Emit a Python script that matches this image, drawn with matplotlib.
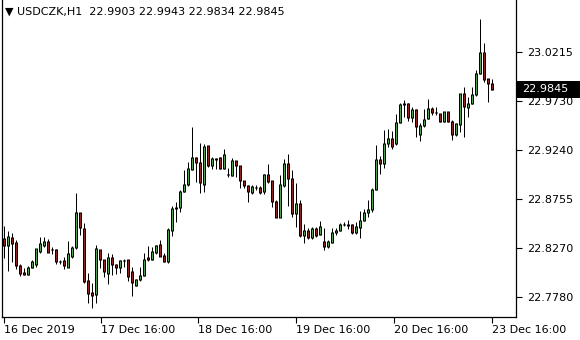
import matplotlib

matplotlib.use("Agg")

import numpy as np  # noqa: E402
from matplotlib import pyplot as plt  # noqa: E402
from matplotlib import transforms  # noqa: E402
from matplotlib.patches import Rectangle  # noqa: E402

# USDCZK H1 bars
opens = [
    22.8366, 22.8287, 22.8376, 22.8317, 22.8088, 22.8028, 22.8008, 22.8078, 22.8098, 22.8237,
    22.8287, 22.8327, 22.8247, 22.8247, 22.8128, 22.8138, 22.8078, 22.8187, 22.8267, 22.8615,
    22.8456, 22.7939, 22.7829, 22.7809, 22.8247, 22.8148, 22.8018, 22.8177, 22.8098, 22.8078,
    22.8138, 22.8148, 22.8038, 22.7899, 22.7949, 22.7998, 22.8177, 22.8157, 22.8227, 22.8297,
    22.8197, 22.8128, 22.8436, 22.8664, 22.8674, 22.8833, 22.8903, 22.9052, 22.9171, 22.9112,
    22.8903, 22.9281, 22.9082, 22.9151, 22.9171, 22.9062, 22.9002, 22.8992, 22.9132, 22.9082,
    22.8933, 22.8893, 22.8814, 22.8873, 22.8873, 22.8824, 22.9002, 22.8933, 22.8734, 22.8575,
    22.8893, 22.9102, 22.8953, 22.8605, 22.8714, 22.8396, 22.8436, 22.8376, 22.8456, 22.8406,
    22.8336, 22.8277, 22.8317, 22.8416, 22.8436, 22.8505, 22.8495, 22.8505, 22.8416, 22.8466,
    22.8545, 22.8615, 22.8645, 22.8853, 22.9151, 22.9102, 22.9301, 22.9360, 22.9301, 22.9519,
    22.9708, 22.9708, 22.9569, 22.9648, 22.9400, 22.9480, 22.9559, 22.9658, 22.9609, 22.9599,
    22.9529, 22.9619, 22.9529, 22.9400, 22.9499, 22.9798, 22.9668, 22.9708, 22.9788, 23.0006,
    23.0215, 22.9949, 22.9903,
]
highs = [
    22.8486, 22.8436, 22.8416, 22.8346, 22.8108, 22.8068, 22.8088, 22.8148, 22.8257, 22.8376,
    22.8376, 22.8356, 22.8277, 22.8257, 22.8148, 22.8177, 22.8336, 22.8287, 22.8814, 22.8615,
    22.8515, 22.8018, 22.7919, 22.8297, 22.8247, 22.8148, 22.8217, 22.8207, 22.8108, 22.8148,
    22.8157, 22.8148, 22.8078, 22.7959, 22.8078, 22.8217, 22.8287, 22.8277, 22.8297, 22.8346,
    22.8217, 22.8466, 22.8684, 22.8724, 22.8843, 22.9042, 22.9122, 22.9470, 22.9171, 22.9311,
    22.9301, 22.9281, 22.9171, 22.9161, 22.9171, 22.9251, 22.9062, 22.9161, 22.9132, 22.9082,
    22.8933, 22.8893, 22.8893, 22.8893, 22.8883, 22.9002, 22.9102, 22.8933, 22.8744, 22.8992,
    22.9151, 22.9201, 22.9042, 22.8913, 22.8744, 22.8505, 22.8466, 22.8476, 22.8476, 22.8535,
    22.8466, 22.8346, 22.8466, 22.8466, 22.8515, 22.8525, 22.8545, 22.8505, 22.8525, 22.8635,
    22.8654, 22.8744, 22.8863, 22.9291, 22.9181, 22.9440, 22.9450, 22.9430, 22.9599, 22.9708,
    22.9738, 22.9708, 22.9668, 22.9648, 22.9509, 22.9648, 22.9748, 22.9668, 22.9668, 22.9599,
    22.9619, 22.9619, 22.9539, 22.9509, 22.9798, 22.9867, 22.9768, 22.9867, 23.0036, 23.0543,
    23.0305, 22.9949, 22.9943,
]
lows = [
    22.8167, 22.8038, 22.8128, 22.8058, 22.7988, 22.7998, 22.7998, 22.8068, 22.8078, 22.8217,
    22.8277, 22.8227, 22.8207, 22.8108, 22.8108, 22.8058, 22.8078, 22.8167, 22.8257, 22.8396,
    22.7919, 22.7720, 22.7670, 22.7720, 22.8068, 22.7979, 22.7909, 22.7998, 22.8008, 22.8018,
    22.8078, 22.7939, 22.7790, 22.7889, 22.7939, 22.7988, 22.8138, 22.8148, 22.8207, 22.8187,
    22.8128, 22.8118, 22.8386, 22.8525, 22.8625, 22.8824, 22.8883, 22.9042, 22.8923, 22.8814,
    22.8824, 22.9072, 22.9052, 22.9052, 22.9052, 22.9052, 22.8973, 22.8983, 22.8973, 22.8863,
    22.8863, 22.8724, 22.8804, 22.8843, 22.8804, 22.8804, 22.8913, 22.8674, 22.8575, 22.8575,
    22.8873, 22.8684, 22.8575, 22.8476, 22.8376, 22.8317, 22.8356, 22.8356, 22.8376, 22.8396,
    22.8247, 22.8267, 22.8317, 22.8396, 22.8436, 22.8486, 22.8456, 22.8406, 22.8406, 22.8366,
    22.8535, 22.8575, 22.8625, 22.8843, 22.9002, 22.9062, 22.9271, 22.9251, 22.9291, 22.9509,
    22.9569, 22.9529, 22.9519, 22.9370, 22.9330, 22.9470, 22.9549, 22.9589, 22.9589, 22.9519,
    22.9519, 22.9519, 22.9340, 22.9380, 22.9420, 22.9370, 22.9569, 22.9698, 22.9778, 22.9996,
    22.9920, 22.9718, 22.9834,
]
closes = [
    22.8287, 22.8386, 22.8307, 22.8088, 22.8018, 22.8008, 22.8078, 22.8128, 22.8257, 22.8307,
    22.8327, 22.8227, 22.8247, 22.8128, 22.8128, 22.8088, 22.8217, 22.8267, 22.8615, 22.8466,
    22.7929, 22.7819, 22.7799, 22.8257, 22.8148, 22.8038, 22.8177, 22.8098, 22.8078, 22.8138,
    22.8138, 22.7988, 22.7919, 22.7949, 22.7998, 22.8157, 22.8148, 22.8237, 22.8287, 22.8187,
    22.8128, 22.8446, 22.8664, 22.8674, 22.8833, 22.8903, 22.9062, 22.9171, 22.9112, 22.8913,
    22.9271, 22.9082, 22.9161, 22.9161, 22.9062, 22.9201, 22.9002, 22.9132, 22.9082, 22.8933,
    22.8893, 22.8824, 22.8883, 22.8873, 22.8814, 22.9002, 22.8923, 22.8734, 22.8575, 22.8903,
    22.9102, 22.8953, 22.8605, 22.8714, 22.8396, 22.8436, 22.8376, 22.8456, 22.8396, 22.8476,
    22.8277, 22.8327, 22.8416, 22.8436, 22.8505, 22.8505, 22.8505, 22.8416, 22.8476, 22.8545,
    22.8615, 22.8645, 22.8853, 22.9151, 22.9102, 22.9301, 22.9360, 22.9271, 22.9519, 22.9698,
    22.9698, 22.9569, 22.9648, 22.9470, 22.9480, 22.9549, 22.9658, 22.9609, 22.9609, 22.9529,
    22.9619, 22.9529, 22.9400, 22.9509, 22.9798, 22.9678, 22.9708, 22.9788, 23.0006, 23.0215,
    22.9939, 22.9900, 22.9845,
]

price_ticks = [23.0215, 22.9730, 22.9240, 22.8755, 22.8270, 22.7780]
time_ticks = [0.2, 24.4, 48.7, 73.2, 97.7, 122.2]
time_labels = ["16 Dec 2019", "17 Dec 16:00", "18 Dec 16:00",
               "19 Dec 16:00", "20 Dec 16:00", "23 Dec 16:00"]
symbol = "USDCZK,H1"

o = np.array(opens)
h = np.array(highs)
lo = np.array(lows)
c = np.array(closes)
x = np.arange(len(o))

plt.rcParams["font.family"] = ["DejaVu Sans"]
fig = plt.figure(figsize=(5.8, 3.4), dpi=100)
W, H = 580, 340
ax = fig.add_axes([2 / W, (H - 317) / H, 514 / W, 317 / H])
ymin, ymax = 22.7581, 23.0732
px = (ymax - ymin) / 317  # price per pixel
pt = 72 / 100  # one pixel in points

top = np.maximum(o, c)
bot = np.minimum(o, c)
up = c >= o

ax.vlines(x, lo, h, color="black", linewidth=pt, zorder=2)
# black 3px body, then a 1px coloured core inside it
ax.vlines(x, bot - 0.5 * px, top + 0.5 * px, color="black", linewidth=3 * pt,
          zorder=3, capstyle="butt")
core = (top - bot) > 1.5 * px
for sel, col in ((core & up, "#22c322"), (core & ~up, "#e00000")):
    ax.vlines(x[sel], bot[sel] + 0.5 * px, top[sel] - 0.5 * px, color=col,
              linewidth=pt, zorder=4, capstyle="butt")

ax.set_xlim(-0.375, 128.125)
ax.set_ylim(ymin, ymax)

ax.yaxis.tick_right()
ax.set_yticks(price_ticks)
ax.set_yticklabels([f"{p:.4f}" for p in price_ticks])
ax.set_xticks(time_ticks)
ax.set_xticklabels(time_labels, ha="left")
ax.tick_params(axis="both", direction="out", length=4, width=0.8,
               labelsize=8, colors="black", pad=2)
ax.tick_params(axis="y", pad=4)
ax.spines["top"].set_visible(False)
for s in ("left", "right", "bottom"):
    ax.spines[s].set_linewidth(0.9)

# current price marker on the price scale
trans = transforms.blended_transform_factory(fig.transFigure, ax.transData)
ax.add_patch(Rectangle((517 / W, c[-1] - 8.5 * px), 63 / W, 17 * px, transform=trans,
                       facecolor="black", edgecolor="none", clip_on=False, zorder=5))
ax.text(522 / W, c[-1], f"{c[-1]:.4f}", transform=trans, color="white",
        fontsize=8, va="center", ha="left", zorder=6, clip_on=False)

header = f"\u25bc {symbol}  {o[-1]:.4f} {h[-1]:.4f} {lo[-1]:.4f} {c[-1]:.4f}"
fig.text(5 / W, 1 - 12 / H, header, fontsize=8, va="center", ha="left",
         color="black", bbox=dict(boxstyle="square,pad=0.1", fc="white", ec="none"))

fig.savefig("out.png", dpi=100, facecolor="white")
